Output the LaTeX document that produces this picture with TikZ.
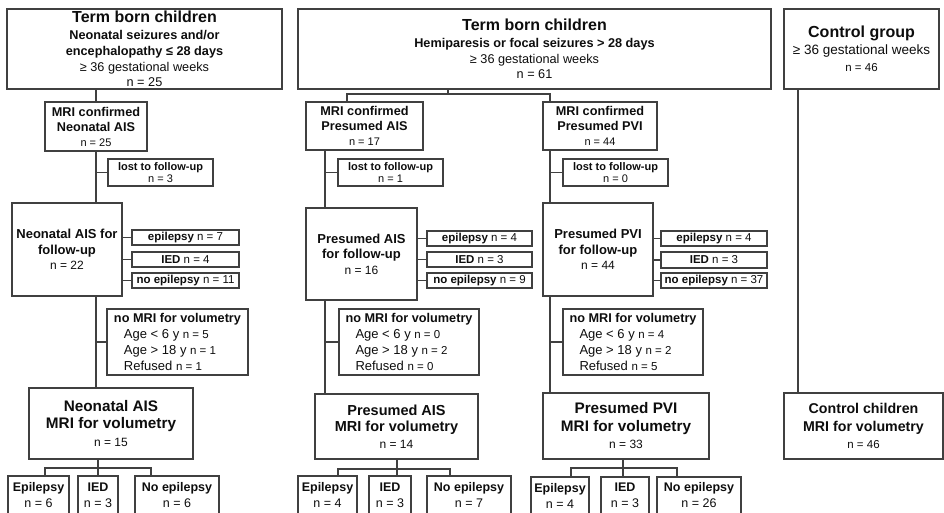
\documentclass[tikz,border=0pt]{standalone}
\usepackage{fontspec}
\setmainfont{Liberation Sans}
\newcommand{\fsz}[2]{\fontsize{#1}{#2}\selectfont}
\definecolor{lc}{gray}{0.25}
\definecolor{tc}{gray}{0.05}
\begin{document}
\begin{tikzpicture}[x=1pt,y=-1pt,
  box/.style={draw=lc, line width=1.1pt, inner sep=0pt, align=center, text=tc},
  leftbox/.style={draw=lc, line width=1.1pt, inner sep=0pt, align=left, text=tc},
  conn/.style={draw=lc, line width=1.1pt}]
\useasboundingbox (0,0) rectangle (944,512);
\clip (0,0) rectangle (944,512);

% ---------------- Left column ----------------
\node[box, minimum width=275pt, minimum height=80pt, font=\fsz{12.7}{15.7}] (A1) at (144.5,49)
  {{\fsz{16}{18}\bfseries Term born children}\\[1.5pt]
   \textbf{Neonatal seizures and/or}\\
   \textbf{encephalopathy ≤ 28 days}\\
   ≥ 36 gestational weeks\\
   n = 25};
\node[box, minimum width=102pt, minimum height=49pt, font=\fsz{12.7}{15}] (A2) at (96,126.5)
  {\textbf{MRI confirmed}\\ \textbf{Neonatal AIS}\\ {\fsz{11}{13}n = 25}};
\node[box, minimum width=105pt, minimum height=27pt, font=\fsz{11}{12}] (A3) at (160.5,172.5)
  {\textbf{lost to follow-up}\\ n = 3};
\node[box, minimum width=110pt, minimum height=93pt, font=\fsz{13}{15.5}] (A4) at (67,249.5)
  {\textbf{Neonatal AIS for}\\ \textbf{follow-up}\\ {\fsz{12}{14}n = 22}};
\node[box, minimum width=107pt, minimum height=15pt, font=\fsz{11.5}{13}] (A5) at (185.5,237.5)
  {\textbf{epilepsy} n = 7};
\node[box, minimum width=107pt, minimum height=15pt, font=\fsz{11.5}{13}] (A6) at (185.5,259.5)
  {\textbf{IED} n = 4};
\node[box, minimum width=107pt, minimum height=15pt, font=\fsz{11.5}{13}] (A7) at (185.5,280.5)
  {\textbf{no epilepsy} n = 11};
\node[leftbox, minimum width=141pt, minimum height=66pt, font=\fsz{13}{16.3}] (A8) at (177.5,342)
  {{\fsz{12.7}{16.3}\bfseries no MRI for volumetry}\\
   \hspace*{10pt}Age < 6 y {\fsz{11.5}{12}n = 5}\\
   \hspace*{10pt}Age > 18 y {\fsz{11.5}{12}n = 1}\\
   \hspace*{10pt}Refused {\fsz{11.5}{12}n = 1}};
\node[box, minimum width=164pt, minimum height=71pt, font=\fsz{15.3}{17.5}] (A9) at (111,423.5)
  {\textbf{Neonatal AIS}\\ \textbf{MRI for volumetry}\\ {\fsz{12}{14}n = 15}};
\node[box, minimum width=61pt, minimum height=38pt, font=\fsz{12.5}{16}] (A10) at (38.5,495)
  {\textbf{Epilepsy}\\ n = 6};
\node[box, minimum width=40pt, minimum height=38pt, font=\fsz{12.5}{16}] (A11) at (98,495)
  {\textbf{IED}\\ n = 3};
\node[box, minimum width=84pt, minimum height=38pt, font=\fsz{12.5}{16}] (A12) at (177,495)
  {\textbf{No epilepsy}\\ n = 6};

\coordinate (jA) at (98,468);
\coordinate (jAl) at (45,468);
\coordinate (jAr) at (151,468);
\draw[conn] (A1.south -| A2.north) -- (A2.north);
\draw[conn] (A2.south) -- (A2.south |- A4.north);
\draw[conn] (A2.south |- A3.west) -- (A3.west);
\draw[conn] (A2.south |- A4.south) -- (A2.south |- A9.north);
\draw[conn] (A2.south |- A8.west) -- (A8.west);
\draw[conn] (A4.east |- A5.west) -- (A5.west);
\draw[conn] (A4.east |- A6.west) -- (A6.west);
\draw[conn] (A4.east |- A7.west) -- (A7.west);
\draw[conn] (A9.south -| jA) -- (jA) -- (jA |- A11.north);
\draw[conn] (jAl |- A10.north) -- (jAl) -- (jAr) -- (jAr |- A12.north);

% ---------------- Middle column ----------------
\node[box, minimum width=473pt, minimum height=80pt, font=\fsz{12.7}{15.5}] (B1) at (534.5,49)
  {{\fsz{16}{18}\bfseries Term born children}\\[2pt]
   \textbf{Hemiparesis or focal seizures > 28 days}\\
   ≥ 36 gestational weeks\\
   n = 61};
\node[box, minimum width=117pt, minimum height=48pt, font=\fsz{12.7}{15}] (B2) at (364.5,126)
  {\textbf{MRI confirmed}\\ \textbf{Presumed AIS}\\ {\fsz{11}{13}n = 17}};
\node[box, minimum width=114pt, minimum height=48pt, font=\fsz{12.7}{15}] (B3) at (600,126)
  {\textbf{MRI confirmed}\\ \textbf{Presumed PVI}\\ {\fsz{11}{13}n = 44}};
\node[box, minimum width=105pt, minimum height=27pt, font=\fsz{11}{12}] (B4) at (390.5,172.5)
  {\textbf{lost to follow-up}\\ n = 1};
\node[box, minimum width=105pt, minimum height=27pt, font=\fsz{11}{12}] (B8) at (615.5,172.5)
  {\textbf{lost to follow-up}\\ n = 0};
\node[box, minimum width=111pt, minimum height=92pt, font=\fsz{13}{15.5}] (B5) at (361.5,254)
  {\textbf{Presumed AIS}\\ \textbf{for follow-up}\\ {\fsz{12}{14}n = 16}};
\node[box, minimum width=110pt, minimum height=93pt, font=\fsz{13}{15.5}] (B9) at (598,249.5)
  {\textbf{Presumed PVI}\\ \textbf{for follow-up}\\ {\fsz{12}{14}n = 44}};
\node[box, minimum width=105pt, minimum height=15pt, font=\fsz{11.5}{13}] (B5a) at (479.5,238.5)
  {\textbf{epilepsy} n = 4};
\node[box, minimum width=105pt, minimum height=15pt, font=\fsz{11.5}{13}] (B5b) at (479.5,259.5)
  {\textbf{IED} n = 3};
\node[box, minimum width=105pt, minimum height=15pt, font=\fsz{11.5}{13}] (B5c) at (479.5,280.5)
  {\textbf{no epilepsy} n = 9};
\node[box, minimum width=106pt, minimum height=15pt, font=\fsz{11.5}{13}] (B9a) at (714,238.5)
  {\textbf{epilepsy} n = 4};
\node[box, minimum width=106pt, minimum height=16pt, font=\fsz{11.5}{13}] (B9b) at (714,260)
  {\textbf{IED} n = 3};
\node[box, minimum width=106pt, minimum height=15pt, font=\fsz{11.5}{13}] (B9c) at (714,280.5)
  {\textbf{no epilepsy} n = 37};
\node[leftbox, minimum width=140pt, minimum height=66pt, font=\fsz{13}{16.3}] (B6) at (409,342)
  {{\fsz{12.7}{16.3}\bfseries no MRI for volumetry}\\
   \hspace*{10pt}Age < 6 y {\fsz{11.5}{12}n = 0}\\
   \hspace*{10pt}Age > 18 y {\fsz{11.5}{12}n = 2}\\
   \hspace*{10pt}Refused {\fsz{11.5}{12}n = 0}};
\node[leftbox, minimum width=140pt, minimum height=66pt, font=\fsz{13}{16.3}] (B10) at (633,342)
  {{\fsz{12.7}{16.3}\bfseries no MRI for volumetry}\\
   \hspace*{10pt}Age < 6 y {\fsz{11.5}{12}n = 4}\\
   \hspace*{10pt}Age > 18 y {\fsz{11.5}{12}n = 2}\\
   \hspace*{10pt}Refused {\fsz{11.5}{12}n = 5}};
\node[box, minimum width=163pt, minimum height=65pt, font=\fsz{14.5}{16.5}] (B7) at (396.5,426.5)
  {\textbf{Presumed AIS}\\ \textbf{MRI for volumetry}\\ {\fsz{12}{14}n = 14}};
\node[box, minimum width=166pt, minimum height=66pt, font=\fsz{15.3}{17.5}] (B11) at (626,426)
  {\textbf{Presumed PVI}\\ \textbf{MRI for volumetry}\\ {\fsz{12}{14}n = 33}};
\node[box, minimum width=59pt, minimum height=38pt, font=\fsz{12.5}{16}] (B7a) at (327.5,495)
  {\textbf{Epilepsy}\\ n = 4};
\node[box, minimum width=42pt, minimum height=38pt, font=\fsz{12.5}{16}] (B7b) at (390,495)
  {\textbf{IED}\\ n = 3};
\node[box, minimum width=84pt, minimum height=38pt, font=\fsz{12.5}{16}] (B7c) at (469,495)
  {\textbf{No epilepsy}\\ n = 7};
\node[box, minimum width=58pt, minimum height=37pt, font=\fsz{12.5}{16}] (B11a) at (560,495.5)
  {\textbf{Epilepsy}\\ n = 4};
\node[box, minimum width=48pt, minimum height=37pt, font=\fsz{12.5}{16}] (B11b) at (625,495.5)
  {\textbf{IED}\\ n = 3};
\node[box, minimum width=84pt, minimum height=37pt, font=\fsz{12.5}{16}] (B11c) at (699,495.5)
  {\textbf{No epilepsy}\\ n = 26};

\coordinate (jB) at (448,94);
\coordinate (jBl) at (347,94);
\coordinate (jBr) at (550,94);
\draw[conn] (B1.south -| jB) -- (jB);
\draw[conn] (jBl |- B2.north) -- (jBl) -- (jBr) -- (jBr |- B3.north);
\coordinate (xB) at (325,150);
\draw[conn] (xB) -- (xB |- B5.north);
\draw[conn] (xB |- B4.west) -- (B4.west);
\draw[conn] (xB |- B5.south) -- (xB |- B7.north);
\draw[conn] (xB |- B6.west) -- (B6.west);
\draw[conn] (B5.east |- B5a.west) -- (B5a.west);
\draw[conn] (B5.east |- B5b.west) -- (B5b.west);
\draw[conn] (B5.east |- B5c.west) -- (B5c.west);
\coordinate (xC) at (550,150);
\draw[conn] (xC) -- (xC |- B9.north);
\draw[conn] (xC |- B8.west) -- (B8.west);
\draw[conn] (xC |- B9.south) -- (xC |- B11.north);
\draw[conn] (xC |- B10.west) -- (B10.west);
\draw[conn] (B9.east |- B9a.west) -- (B9a.west);
\draw[conn] (B9.east |- B9b.west) -- (B9b.west);
\draw[conn] (B9.east |- B9c.west) -- (B9c.west);
\coordinate (jC) at (397,469);
\coordinate (jCl) at (338,469);
\coordinate (jCr) at (450,469);
\draw[conn] (B7.south -| jC) -- (jC);
\draw[conn] (jCl |- B7a.north) -- (jCl) -- (jCr) -- (jCr |- B7c.north);
\draw[conn] (jC) -- (jC |- B7b.north);
\coordinate (jD) at (623,468);
\coordinate (jDl) at (571,468);
\coordinate (jDr) at (677,468);
\draw[conn] (B11.south -| jD) -- (jD);
\draw[conn] (jDl |- B11a.north) -- (jDl) -- (jDr) -- (jDr |- B11c.north);
\draw[conn] (jD) -- (jD |- B11b.north);

% ---------------- Control ----------------
\node[box, minimum width=155pt, minimum height=80pt, font=\fsz{13.5}{17}] (C1) at (861.5,49)
  {{\fsz{16}{18}\bfseries Control group}\\
   ≥ 36 gestational weeks\\
   {\fsz{11.5}{14}n = 46}};
\node[box, minimum width=159pt, minimum height=66pt, font=\fsz{14.2}{17.5}] (C2) at (863.5,426)
  {\textbf{Control children}\\ \textbf{MRI for volumetry}\\ {\fsz{11.5}{14}n = 46}};
\coordinate (xD) at (798,89);
\draw[conn] (xD) -- (xD |- C2.north);
\end{tikzpicture}
\end{document}
